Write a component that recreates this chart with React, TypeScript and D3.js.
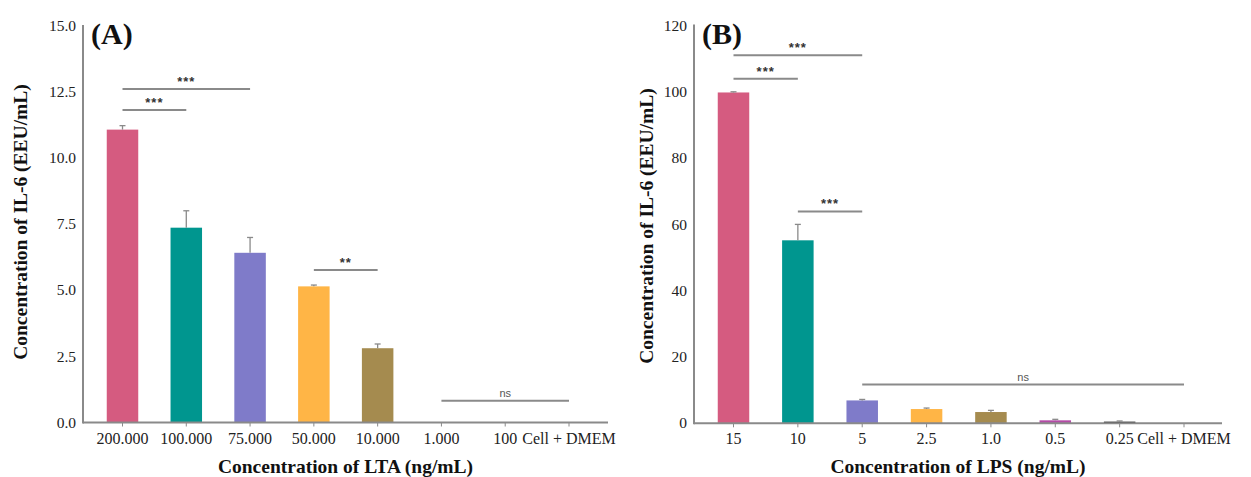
import React from "react";
import * as d3 from "d3";

const catsA = ["200.000", "100.000", "75.000", "50.000", "10.000", "1.000", "100", "Cell + DMEM"];
const valuesA = [11.08, 7.37, 6.42, 5.15, 2.81, 0, 0, 0];
const errA = [0.15, 0.64, 0.58, 0.05, 0.16, 0, 0, 0];
const ticksA = [0, 2.5, 5, 7.5, 10, 12.5, 15];

const catsB = ["15", "10", "5", "2.5", "1.0", "0.5", "0.25", "Cell + DMEM"];
const valuesB = [99.8, 55.2, 6.9, 4.3, 3.4, 0.9, 0.5, 0];
const errB = [0.2, 4.8, 0.3, 0.3, 0.5, 0.3, 0.2, 0];
const ticksB = [0, 20, 40, 60, 80, 100, 120];

const colors = ["#D55B80", "#00968F", "#7F7BC9", "#FFB546", "#A58B4F", "#B44BA6", "#1E1E1E", "#999999"];

const sigA = [
  { from: 0, to: 2, level: 12.62, label: "***" },
  { from: 0, to: 1, level: 11.82, label: "***" },
  { from: 3, to: 4, level: 5.77, label: "**" },
  { from: 5, to: 7, level: 0.82, label: "ns" },
];
const sigB = [
  { from: 0, to: 2, level: 111.0, label: "***" },
  { from: 0, to: 1, level: 103.9, label: "***" },
  { from: 1, to: 2, level: 63.9, label: "***" },
  { from: 2, to: 7, level: 11.7, label: "ns" },
];

const serif = "'Liberation Serif', 'Times New Roman', serif";
const sans = "'Liberation Sans', Arial, sans-serif";
const axisColor = "#8a8a8a";

type PanelProps = {
  cats: string[];
  values: number[];
  errs: number[];
  ticks: number[];
  tickFmt: (v: number) => string;
  yMax: number;
  sig: { from: number; to: number; level: number; label: string }[];
  axisX: number;
  axisEnd: number;
  firstC: number;
  lastC: number;
  y0: number;
  yTop: number;
  panelLabel: string;
  panelX: number;
  yTitleX: number;
  yTitleY: number;
  xTitle: string;
};

function Panel(p: PanelProps) {
  const x = d3.scalePoint<string>().domain(p.cats).range([p.firstC, p.lastC]);
  const y = d3.scaleLinear().domain([0, p.yMax]).range([p.y0, p.yTop]);
  const bw = 31.5;
  return (
    <g>
      {p.cats.map((c, i) =>
        p.values[i] > 0 ? (
          <rect
            key={"b" + i}
            x={(x(c) as number) - bw / 2}
            y={y(p.values[i])}
            width={bw}
            height={p.y0 - y(p.values[i])}
            fill={colors[i]}
          />
        ) : null
      )}
      {p.cats.map((c, i) =>
        p.values[i] > 0 ? (
          <g key={"e" + i} stroke={axisColor} strokeWidth={1.3}>
            <line x1={x(c)} x2={x(c)} y1={y(p.values[i])} y2={y(p.values[i] + p.errs[i])} />
            <line
              x1={(x(c) as number) - 3}
              x2={(x(c) as number) + 3}
              y1={y(p.values[i] + p.errs[i])}
              y2={y(p.values[i] + p.errs[i])}
            />
          </g>
        ) : null
      )}
      <line x1={p.axisX} x2={p.axisX} y1={p.yTop - 1} y2={p.y0 + 1} stroke={axisColor} strokeWidth={2} />
      <line x1={p.axisX} x2={p.axisEnd} y1={p.y0} y2={p.y0} stroke={axisColor} strokeWidth={2} />
      {p.ticks.map((t) => (
        <text
          key={"yt" + t}
          x={p.axisX - 7}
          y={y(t)}
          dy="0.33em"
          textAnchor="end"
          fontFamily={serif}
          fontSize={15.5}
          fill="#222"
        >
          {p.tickFmt(t)}
        </text>
      ))}
      {p.cats.map((c) => (
        <g key={"xt" + c}>
          <line x1={x(c)} x2={x(c)} y1={p.y0} y2={p.y0 + 4} stroke={axisColor} strokeWidth={1} />
          <text x={x(c)} y={444} textAnchor="middle" fontFamily={serif} fontSize={16} fill="#222">
            {c}
          </text>
        </g>
      ))}
      {p.sig.map((s, i) => {
        const x1 = x(p.cats[s.from]) as number;
        const x2 = x(p.cats[s.to]) as number;
        const yy = y(s.level);
        const isNs = s.label === "ns";
        return (
          <g key={"s" + i}>
            <line x1={x1} x2={x2} y1={yy} y2={yy} stroke={axisColor} strokeWidth={2} />
            <text
              x={(x1 + x2) / 2}
              y={isNs ? yy - 4 : yy - 3}
              textAnchor="middle"
              fontFamily={sans}
              fontSize={isNs ? 11 : 13}
              fontWeight={isNs ? "normal" : "bold"}
              letterSpacing={isNs ? 0 : 1}
              fill={isNs ? "#555" : "#333"}
            >
              {s.label}
            </text>
          </g>
        );
      })}
      <text x={p.panelX} y={44} fontFamily={serif} fontSize={30} fontWeight="bold" fill="#111">
        {p.panelLabel}
      </text>
      <text
        transform={`translate(${p.yTitleX},${p.yTitleY}) rotate(-90)`}
        textAnchor="middle"
        fontFamily={serif}
        fontSize={19.5}
        fontWeight="bold"
        fill="#111"
      >
        Concentration of IL-6 (EEU/mL)
      </text>
      <text
        x={(p.axisX + p.axisEnd) / 2}
        y={472.5}
        textAnchor="middle"
        fontFamily={serif}
        fontSize={19.5}
        fontWeight="bold"
        fill="#111"
      >
        {p.xTitle}
      </text>
    </g>
  );
}

export default function App() {
  return (
    <svg
      width={1251}
      height={477}
      style={{ position: "absolute", left: 0, top: 0, background: "#fff" }}
    >
      <rect width={1251} height={477} fill="#fff" />
      <Panel
        cats={catsA}
        values={valuesA}
        errs={errA}
        ticks={ticksA}
        tickFmt={d3.format(".1f")}
        yMax={15}
        sig={sigA}
        axisX={83}
        axisEnd={608}
        firstC={122.5}
        lastC={569}
        y0={422.5}
        yTop={26}
        panelLabel="(A)"
        panelX={91}
        yTitleX={26.5}
        yTitleY={222}
        xTitle="Concentration of LTA (ng/mL)"
      />
      <Panel
        cats={catsB}
        values={valuesB}
        errs={errB}
        ticks={ticksB}
        tickFmt={d3.format("d")}
        yMax={120}
        sig={sigB}
        axisX={694}
        axisEnd={1222}
        firstC={733.5}
        lastC={1184}
        y0={423.3}
        yTop={25.5}
        panelLabel="(B)"
        panelX={702}
        yTitleX={653}
        yTitleY={226}
        xTitle="Concentration of LPS (ng/mL)"
      />
    </svg>
  );
}
